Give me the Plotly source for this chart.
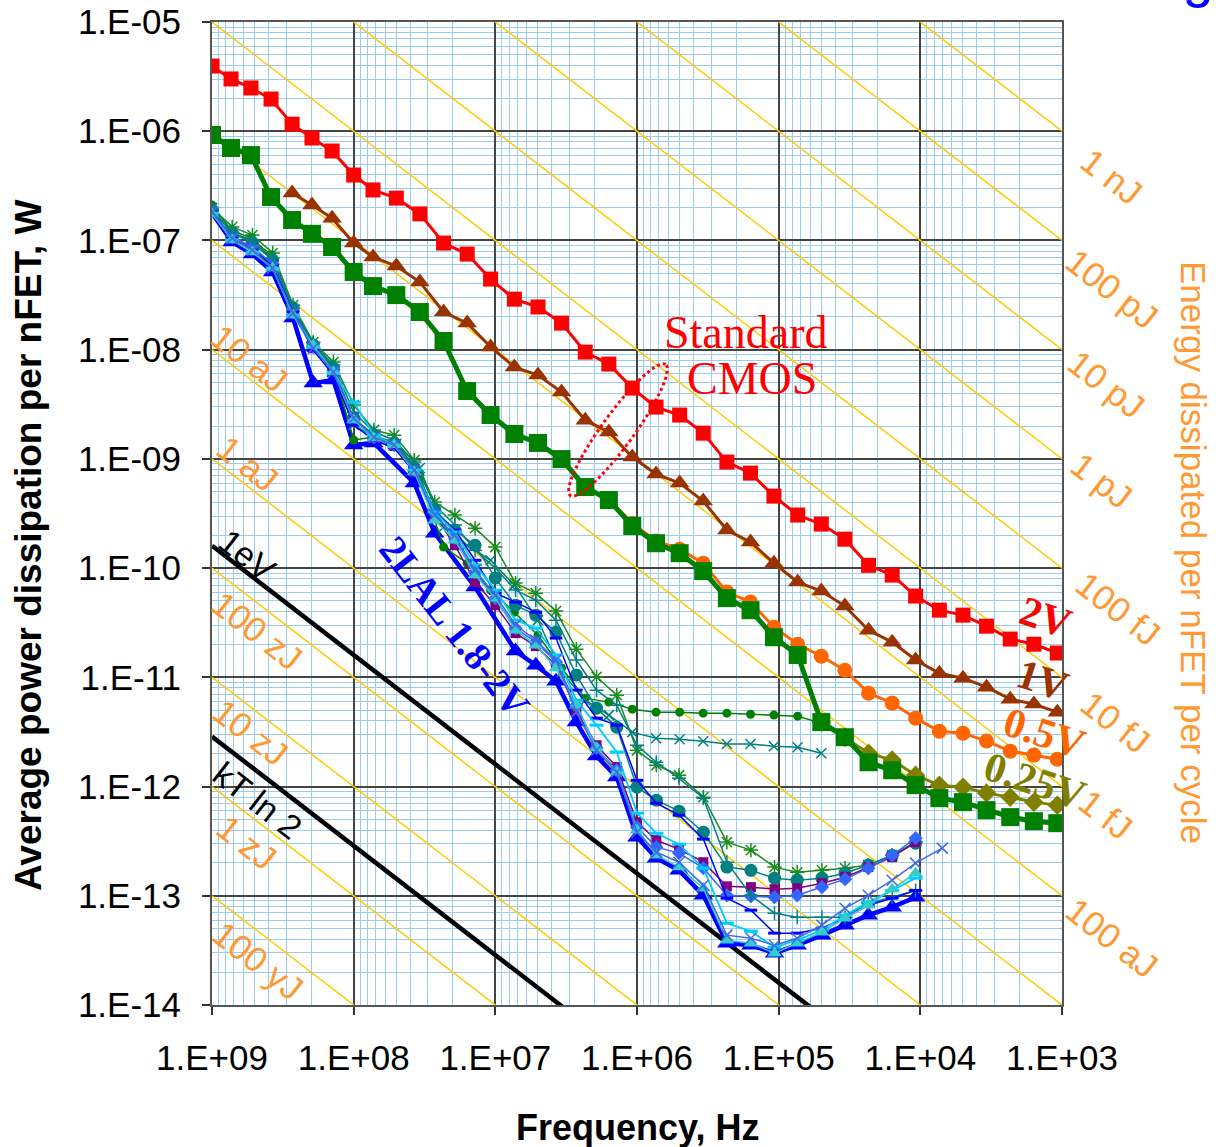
import numpy as np
import plotly.graph_objects as go

# ------------------------------------------------------------------ data
# frequency grid of the standard-CMOS sweeps (Hz)
freq_cmos = [1.0e9, 7.34e8, 5.31e8, 3.83e8, 2.72e8, 1.97e8, 1.42e8, 1.0e8, 7.3e7, 5.0e7,
             3.41e7, 2.32e7, 1.58e7, 1.08e7, 7.34e6, 5.0e6, 3.41e6, 2.32e6, 1.58e6, 1.08e6,
             7.34e5, 5.0e5, 3.41e5, 2.32e5, 1.58e5, 1.08e5, 7.34e4, 5.0e4, 3.41e4, 2.32e4,
             1.58e4, 1.08e4, 7.34e3, 5.0e3, 3.41e3, 2.32e3, 1.58e3, 1.08e3]
# frequency grid of the 2LAL sweeps (Hz)
freq_lal = [1.0e9, 7.2e8, 5.18e8, 3.73e8, 2.68e8, 1.93e8, 1.39e8, 1.0e8, 7.2e7, 5.18e7,
            3.73e7, 2.68e7, 1.93e7, 1.39e7, 1.0e7, 7.2e6, 5.18e6, 3.73e6, 2.68e6, 1.93e6,
            1.39e6, 1.0e6, 7.3e5, 5.05e5, 3.4e5, 2.32e5, 1.57e5, 1.07e5, 7.4e4, 4.95e4,
            3.4e4, 2.33e4, 1.58e4, 1.08e4, 7.0e3]

# standard CMOS (W)
p_cmos_2v = [3.95e-6, 3.01e-6, 2.49e-6, 1.97e-6, 1.16e-6, 8.67e-7, 6.59e-7, 3.97e-7, 2.90e-7, 2.44e-7,
             1.75e-7, 9.46e-8, 7.5e-8, 4.43e-8, 2.90e-8, 2.46e-8, 1.75e-8, 9.5e-9, 7.38e-9, 4.45e-9,
             2.98e-9, 2.52e-9, 1.72e-9, 9.35e-10, 7.41e-10, 4.56e-10, 3.06e-10, 2.53e-10, 1.84e-10, 1.06e-10,
             8.63e-11, 5.55e-11, 4.12e-11, 3.71e-11, 2.94e-11, 2.24e-11, 2.01e-11, 1.67e-11]
p_cmos_1v = [None, None, None, None,
             2.72e-7, 2.11e-7, 1.60e-7, 9.46e-8, 7.05e-8, 5.83e-8, 4.16e-8, 2.21e-8, 1.75e-8, 1.06e-8,
             6.93e-9, 5.85e-9, 4.09e-9, 2.26e-9, 1.76e-9, 1.04e-9, 7.26e-10, 6.0e-10, 4.11e-10, 2.23e-10,
             1.73e-10, 1.11e-10, 7.45e-11, 6.16e-11, 4.49e-11, 2.70e-11, 2.10e-11, 1.44e-11, 1.09e-11,
             9.83e-12, 8.13e-12, 6.31e-12, 5.69e-12, 4.80e-12]
p_cmos_green = [9.23e-7, 7.02e-7, 6.05e-7, 2.50e-7, 1.54e-7, 1.15e-7, 8.71e-8, 5.14e-8, 3.82e-8, 3.16e-8,
                2.21e-8, 1.20e-8, 4.18e-9, 2.52e-9, 1.69e-9, 1.40e-9, 9.96e-10, 5.52e-10, 4.20e-10, 2.43e-10,
                1.69e-10, 1.37e-10, 9.39e-11, 5.31e-11, 4.12e-11, 2.33e-11, 1.60e-11, 3.89e-12, 2.83e-12, 1.67e-12,
                1.41e-12, 1.03e-12, 7.83e-13, 7.20e-13, 6.08e-13, 5.25e-13, 4.82e-13, 4.62e-13]
p_cmos_05v = [None] * 17 + [
              5.52e-10, 4.28e-10, 2.58e-10, 1.77e-10, 1.49e-10, 1.11e-10, 6.03e-11, 4.89e-11, 2.88e-11,
              2.01e-11, 1.56e-11, 1.16e-11, 7.16e-12, 5.81e-12, 4.23e-12, 3.21e-12, 3.08e-12, 2.61e-12,
              2.11e-12, 1.94e-12, 1.78e-12]
p_cmos_025v = [None] * 27 + [
               3.89e-12, 2.83e-12, 2.02e-12, 1.75e-12, 1.27e-12, 1.03e-12, 9.88e-13, 8.71e-13, 8.0e-13,
               7.20e-13, 6.76e-13]

# 2LAL 1.8-2V runs (W)
lal_blue_tri = [1.78e-7, 9.66e-8, 7.5e-8, 5.14e-8, 1.95e-8, 4.94e-9, 5.27e-9, 1.34e-9, 1.40e-9, None,
                6.0e-10, 2.09e-10, None, 6.70e-11, None, 1.74e-11, 1.29e-11, 9.23e-12, 3.89e-12, 1.90e-12,
                1.22e-12, 3.44e-13, 2.21e-13, 1.71e-13, 1.01e-13, 3.68e-14, 3.53e-14, 2.98e-14, 3.53e-14, 4.36e-14,
                5.38e-14, 6.64e-14, 7.87e-14, 9.7e-14, None]
lal_green_star = [1.98e-7, 1.33e-7, 1.12e-7, 7.67e-8, 2.56e-8, 1.17e-8, 7.7e-9, 3.11e-9, 1.84e-9, 1.65e-9,
                  9.75e-10, 4.02e-10, 3.06e-10, 2.32e-10, 1.56e-10, 7.29e-11, 5.9e-11, 4.04e-11, 1.81e-11, 1.01e-11,
                  6.87e-12, 2.15e-12, 1.57e-12, 1.27e-12, 8.0e-13, 3.1e-13, 2.62e-13, 1.83e-13, 1.64e-13, 1.71e-13,
                  1.79e-13, 1.91e-13, 2.35e-13, 3.1e-13, None]
lal_teal_circle = [1.90e-7, 1.17e-7, 9.47e-8, 6.61e-8, 2.40e-8, 1.10e-8, 6.78e-9, 2.36e-9, 1.65e-9, 1.40e-9,
                   8.24e-10, 3.40e-10, 2.23e-10, 1.62e-10, 8.10e-11, 4.58e-11, 3.71e-11, 2.59e-11, 1.05e-11, 5.22e-12,
                   3.50e-12, 9.87e-13, 7.51e-13, 5.95e-13, 3.82e-13, 1.83e-13, 1.71e-13, 1.45e-13, 1.39e-13, 1.45e-13,
                   1.61e-13, 1.91e-13, 2.35e-13, 3.03e-13, None]
lal_purple_sq = [1.82e-7, 1.05e-7, 8.52e-8, 5.95e-8, 2.21e-8, 1.03e-8, 6.24e-9, 2.36e-9, 1.55e-9, 1.31e-9,
                 7.57e-10, 3.06e-10, 1.62e-10, 7.44e-11, 4.58e-11, 2.54e-11, 1.93e-11, 1.29e-11, 5.01e-12, 2.39e-12,
                 1.51e-12, 4.72e-13, 3.23e-13, 2.67e-13, 2.03e-13, 1.22e-13, 1.20e-13, 1.15e-13, 1.17e-13, 1.30e-13,
                 1.48e-13, 1.83e-13, 2.26e-13, 3.1e-13, None]
lal_blue_diamond = [1.86e-7, 1.07e-7, 8.70e-8, 6.08e-8, 2.26e-8, 1.06e-8, 6.50e-9, 2.27e-9, 1.58e-9, 1.34e-9,
                    7.89e-10, 3.19e-10, 1.88e-10, 9.19e-11, 5.31e-11, 2.82e-11, 2.10e-11, 1.38e-11, 5.56e-12, 2.25e-12,
                    1.41e-12, 4.25e-13, 2.79e-13, 2.46e-13, 1.79e-13, 1.01e-13, 9.92e-14, 9.71e-14, 1.01e-13, 1.20e-13,
                    1.42e-13, 1.79e-13, 2.35e-13, 3.37e-13, None]
lal_teal_plus = [1.90e-7, 1.19e-7, 9.67e-8, 6.90e-8, 2.40e-8, 1.15e-8, 7.23e-9, 2.68e-9, 1.76e-9, 1.49e-9,
                 9.35e-10, 3.78e-10, 2.48e-10, 1.46e-10, 1.0e-10, 6.29e-11, 5.09e-11, 3.34e-11, 1.44e-11, 7.63e-12,
                 5.56e-12, 2.39e-12, 1.67e-12, 1.19e-12, 7.83e-13, 2.03e-13, 1.01e-13, 6.93e-14, 6.37e-14, 6.37e-14,
                 6.37e-14, 8.56e-14, 9.71e-14, 1.12e-13, None]
lal_blue_dash = [1.82e-7, 1.05e-7, 8.17e-8, 5.83e-8, 2.21e-8, 9.92e-9, 5.85e-9, 2.04e-9, 1.49e-9, 1.26e-9,
                 7.57e-10, 3.26e-10, 2.23e-10, 1.18e-10, 5.9e-11, 4.88e-11, 3.95e-11, 2.29e-11, 7.63e-12, 4.23e-12,
                 3.65e-12, 1.14e-12, 7.05e-13, 5.47e-13, 3.30e-13, 9.51e-14, 7.38e-14, 4.55e-14, 4.55e-14, 5.05e-14,
                 6.24e-14, 8.20e-14, 9.51e-14, 1.12e-13, None]
lal_cyan_dash = [1.78e-7, 1.01e-7, 7.83e-8, 5.59e-8, 2.07e-8, 1.06e-8, 6.11e-9, 3.31e-9, 1.65e-9, 1.34e-9,
                 7.89e-10, 3.26e-10, 2.14e-10, 1.07e-10, 6.29e-11, 3.34e-11, 2.82e-11, 1.60e-11, 6.18e-12, 3.65e-12,
                 2.07e-12, 5.71e-13, 3.74e-13, 2.97e-13, 1.79e-13, 5.61e-14, 4.74e-14, 3.38e-14, 3.92e-14, 4.84e-14,
                 6.64e-14, 8.74e-14, 1.12e-13, 1.45e-13, None]
lal_turq_tri = [1.75e-7, 1.01e-7, 7.83e-8, 5.59e-8, 2.07e-8, 1.10e-8, 6.24e-9, 2.27e-9, 1.55e-9, 1.34e-9,
                7.57e-10, 2.75e-10, 1.80e-10, 8.63e-11, 5.31e-11, 2.70e-11, 1.97e-11, 1.22e-11, 5.56e-12, 2.25e-12,
                1.36e-12, 3.99e-13, 2.35e-13, 1.83e-13, 1.17e-13, 3.92e-14, 3.68e-14, 2.98e-14, 3.68e-14, 4.64e-14,
                6.24e-14, 8.20e-14, 1.15e-13, 1.61e-13, None]
lal_blue_x = [1.82e-7, 1.05e-7, 8.17e-8, 5.59e-8, 2.16e-8, 1.03e-8, 6.24e-9, 2.36e-9, 1.58e-9, 1.34e-9,
              7.89e-10, 3.06e-10, 2.0e-10, 9.59e-11, 5.66e-11, 3.01e-11, 2.19e-11, 1.44e-11, 4.80e-12, 2.15e-12,
              1.36e-12, 3.82e-13, 2.51e-13, 2.03e-13, 1.25e-13, 4.36e-14, 4.09e-14, 3.53e-14, 4.09e-14, 5.38e-14,
              7.70e-14, 1.01e-13, 1.39e-13, 1.99e-13, 2.73e-13]
lal_green_dot = [2.11e-7, 1.25e-7, 1.05e-7, 7.35e-8, 2.56e-8, 1.17e-8, 7.23e-9, 1.49e-9, 1.58e-9, 1.40e-9,
                 7.11e-10, 1.56e-10, 1.11e-10, 6.29e-11, 3.95e-11, 2.43e-11, 1.22e-11, 6.45e-12, 5.93e-12, 5.11e-12,
                 4.80e-12, 4.80e-12, 4.70e-12, 4.70e-12, 4.59e-12, 4.51e-12, 4.41e-12, 3.81e-12]
lal_teal_x = [1.98e-7, 1.19e-7, 1.01e-7, 6.90e-8, 2.40e-8, 1.06e-8, 6.24e-9, 2.04e-9, 1.62e-9, 1.37e-9,
              8.24e-10, 2.37e-10, 1.62e-10, 1.18e-10, 6.99e-11, 3.34e-11, 1.12e-11, 6.18e-12, 4.51e-12, 3.15e-12,
              2.77e-12, 2.71e-12, 2.60e-12, 2.45e-12, 2.45e-12, 2.34e-12, 2.29e-12, 2.02e-12]

# iso-energy guide lines (J per cycle)
energy_levels = [1e-23, 1e-22, 1e-21, 1e-20, 1e-19, 1e-18, 1e-17, 1e-16, 1e-15, 1e-14,
                 1e-13, 1e-12, 1e-11, 1e-10, 1e-9, 1e-8]
energy_1ev = 1.602e-19
energy_ktln2 = 2.87e-21
freq_span = [1e9, 1e3]

x_tick_vals = [1e9, 1e8, 1e7, 1e6, 1e5, 1e4, 1e3]
x_tick_text = ["1.E+09", "1.E+08", "1.E+07", "1.E+06", "1.E+05", "1.E+04", "1.E+03"]
y_tick_vals = [1e-5, 1e-6, 1e-7, 1e-8, 1e-9, 1e-10, 1e-11, 1e-12, 1e-13, 1e-14]
y_tick_text = ["1.E-05", "1.E-06", "1.E-07", "1.E-08", "1.E-09", "1.E-10", "1.E-11", "1.E-12",
               "1.E-13", "1.E-14"]

# ------------------------------------------------------------------ figure
W, H = 1216, 1147
L, R, T, B = 212, 1062, 22, 1005


def pp(x, y):
    return (x - L) / (R - L), (B - y) / (B - T)


fig = go.Figure()

for e in energy_levels:
    fig.add_trace(go.Scatter(x=freq_span, y=[e * f for f in freq_span], mode="lines",
                             line=dict(color="#FFCC00", width=1.5), hoverinfo="skip"))
for e in (energy_1ev, energy_ktln2):
    fig.add_trace(go.Scatter(x=freq_span, y=[e * f for f in freq_span], mode="lines",
                             line=dict(color="black", width=4.5), hoverinfo="skip"))


def add_series(fx, py, color, symbol, size, lw, open_sym=False, mlw=1.5):
    pts = [(f, p) for f, p in zip(fx, py) if p is not None]
    xs = [a for a, _ in pts]
    ys = [b for _, b in pts]
    marker = dict(symbol=symbol, size=size, color=color)
    if open_sym:
        marker["line"] = dict(color=color, width=mlw)
    else:
        marker["line"] = dict(width=0)
    fig.add_trace(go.Scatter(x=xs, y=ys, mode="lines+markers",
                             line=dict(color=color, width=lw), marker=marker))


# 2LAL family
add_series(freq_lal, lal_blue_tri, "#0000FF", "triangle-up", 17, 4.5)
add_series(freq_cmos, lal_green_dot, "#008000", "circle", 9, 1.5)
add_series(freq_cmos, lal_teal_x, "#008080", "x-thin-open", 10, 1.5, True, 1.5)
add_series(freq_lal, lal_green_star, "#1A8C1A", "asterisk-open", 12, 1.5, True, 1.5)
add_series(freq_lal, lal_teal_circle, "#008080", "circle", 13, 1.5)
add_series(freq_lal, lal_purple_sq, "#800080", "square", 10, 1.5)
add_series(freq_lal, lal_blue_diamond, "#3366FF", "diamond", 11, 1.5)
add_series(freq_lal, lal_teal_plus, "#008080", "cross-thin-open", 10, 1.5, True, 1.5)
add_series(freq_lal, lal_blue_dash, "#0000FF", "line-ew-open", 9, 1.5, True, 3)
add_series(freq_lal, lal_cyan_dash, "#00CCFF", "line-ew-open", 10, 1.8, True, 3)
add_series(freq_lal, lal_turq_tri, "#33CCCC", "triangle-up", 13, 1.5)
add_series(freq_lal, lal_blue_x, "#4169E1", "x-thin-open", 11, 1.5, True, 1.5)

# standard CMOS family
add_series(freq_cmos, p_cmos_025v, "#808000", "diamond", 15, 3)
add_series(freq_cmos, p_cmos_05v, "#FF6600", "circle", 15, 3)
add_series(freq_cmos, p_cmos_green, "#008000", "square", 18, 5)
add_series(freq_cmos, p_cmos_1v, "#993300", "triangle-up", 17, 3)
add_series(freq_cmos, p_cmos_2v, "#FF0000", "square", 15, 3)

minor_x = [m * 10 ** e for e in range(3, 9) for m in range(2, 10)]
minor_y = [m * 10.0 ** e for e in range(-14, -5) for m in range(2, 10)]

axis_common = dict(type="log", showline=True, mirror=True, linecolor="#555555", linewidth=2,
                   ticks="outside", ticklen=8, tickcolor="#333333", tickwidth=2,
                   showgrid=True, gridcolor="#444444", gridwidth=1.5, zeroline=False,
                   tickfont=dict(family="Liberation Sans", size=35, color="black"),
                   tickmode="array", automargin=False)

fig.update_layout(
    width=W, height=H,
    margin=dict(l=L, r=W - R, t=T, b=H - B, pad=0, autoexpand=False),
    paper_bgcolor="white", plot_bgcolor="white",
    showlegend=False,
    xaxis=dict(axis_common, range=[9, 3], tickvals=x_tick_vals, ticktext=x_tick_text,
               ticklabelstandoff=13,
               minor=dict(tickmode="array", tickvals=minor_x, showgrid=True,
                          gridcolor="#9CCBF2", gridwidth=1, ticks="")),
    yaxis=dict(axis_common, range=[-14, -5], tickvals=y_tick_vals, ticktext=y_tick_text,
               ticklabelstandoff=14,
               minor=dict(tickmode="array", tickvals=minor_y, showgrid=True,
                          gridcolor="#9CCBF2", gridwidth=1, ticks="")),
)

ann = []


def text(t, x, y, size, color, family="Liberation Sans", angle=0, bold=False, height=None,
         xanchor="center", yanchor="middle"):
    px_, py_ = pp(x, y)
    s = f"<b>{t}</b>" if bold else t
    a = dict(text=s, x=px_, y=py_, xref="paper", yref="paper", showarrow=False,
             xanchor=xanchor, yanchor=yanchor, textangle=angle,
             font=dict(family=family, size=size, color=color))
    if height:
        a["height"] = height
    ann.append(a)


orange_lbl = "#FF9933"
for t, x, y in [("1 nJ", 1112, 176), ("100 pJ", 1112, 288), ("10 pJ", 1107, 384), ("1 pJ", 1102, 480),
                ("100 fJ", 1118, 608), ("10 fJ", 1116, 722), ("1 fJ", 1106, 814), ("100 aJ", 1112, 937),
                ("10 aJ", 250, 358), ("1 aJ", 248, 463), ("100 zJ", 257, 630), ("10 zJ", 251, 732),
                ("1 zJ", 247, 842), ("100 yJ", 258, 960)]:
    text(t, x, y, 35, orange_lbl, angle=38)

text("1eV", 247, 555, 34, "black", angle=38)
text("kT ln 2", 257, 800, 34, "black", angle=38)
text("2LAL 1.8-2V", 455, 626, 39, "#0000FF", family="Liberation Serif", angle=52, bold=True)
text("Standard", 746, 332, 46, "#FF0000", family="Liberation Serif", height=44)
text("CMOS", 752, 378, 46, "#FF0000", family="Liberation Serif", height=44)
text("2V", 1045, 617, 42, "#FF0000", family="Liberation Serif", angle=18, bold=True)
text("1V", 1042, 680, 42, "#993300", family="Liberation Serif", angle=18, bold=True)
text("0.5V", 1044, 733, 42, "#FF6600", family="Liberation Serif", angle=18, bold=True)
text("0.25V", 1035, 781, 42, "#808000", family="Liberation Serif", angle=18, bold=True)

# axis titles
text("Average power dissipation per nFET, W", 28, 545, 37, "black", angle=-90, bold=True)
text("Frequency, Hz", 637, 1127, 36, "black", bold=True)
text("Energy dissipated per nFET per cycle", 1193, 552, 35, orange_lbl, angle=90, height=42)
# the chart's blue title runs off the top edge; only the tail of its last letter shows
text("Scaling", 1216, 10, 56, "#0000FF", xanchor="right", yanchor="bottom")

fig.update_layout(annotations=ann)

# dotted ellipse around the standard CMOS curves
cx, cy, a, b, ang = 618, 430, 81, 16, np.deg2rad(54)
t = np.linspace(0, 2 * np.pi, 90)
ex = cx + a * np.cos(t) * np.cos(ang) - b * np.sin(t) * np.sin(ang)
ey = cy - a * np.cos(t) * np.sin(ang) - b * np.sin(t) * np.cos(ang)
path = "M " + " L ".join(f"{(x - L) / (R - L):.5f},{(B - y) / (B - T):.5f}" for x, y in zip(ex, ey)) + " Z"
fig.add_shape(type="path", path=path, xref="paper", yref="paper",
              line=dict(color="#FF0000", width=3, dash="dot"))

fig.write_html("out.html", config={"displayModeBar": False},
               post_script="document.body.style.margin='0';document.body.style.overflow='hidden';")
